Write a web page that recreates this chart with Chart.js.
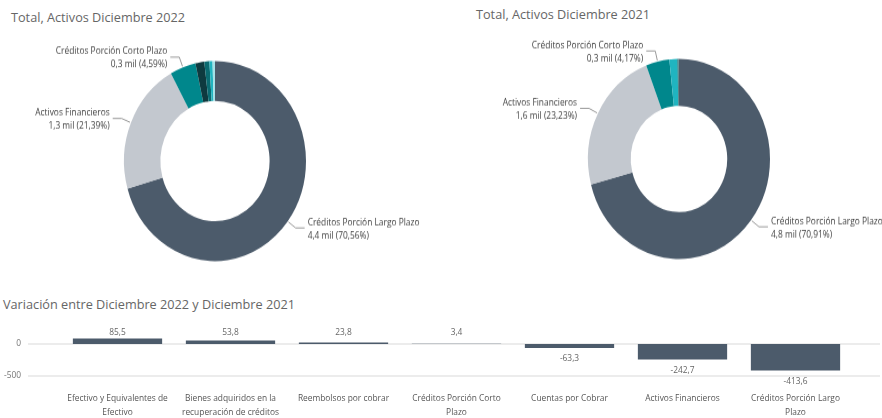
<!DOCTYPE html>
<html lang="es">
<head>
<meta charset="utf-8">
<title>Total, Activos</title>
<script src="https://cdn.jsdelivr.net/npm/chart.js@4.4.1/dist/chart.umd.min.js"></script>
<style>
  html, body { margin: 0; padding: 0; background: #fff; }
  body { width: 882px; height: 418px; position: relative; overflow: hidden; font-family: 'Open Sans', sans-serif; }
  .titulo { position: absolute; font-size: 12.7px; line-height: 16px; color: #666; white-space: nowrap; }
  canvas { position: absolute; }
  /* las donas se muestran algo estiradas en vertical */
  .dona { transform: scaleY(1.1); transform-origin: 0 0; }
</style>
</head>
<body>
<div class="titulo" style="left:11px; top:9px;">Total, Activos Diciembre 2022</div>
<div class="titulo" style="left:476px; top:6px;">Total, Activos Diciembre 2021</div>
<div class="titulo" style="left:3px; top:296px;">Variación entre Diciembre 2022 y Diciembre 2021</div>

<canvas id="dona2022" class="dona" width="440" height="270" style="left:0; top:0;"></canvas>
<canvas id="dona2021" class="dona" width="441" height="270" style="left:441px; top:0;"></canvas>
<canvas id="variacion" width="882" height="102" style="left:0; top:316px;"></canvas>

<script>
// categorías de activos (millones)
const categorias = [
  'Efectivo y Equivalentes de Efectivo',
  'Bienes adquiridos en la recuperación de créditos',
  'Reembolsos por cobrar',
  'Créditos Porción Corto Plazo',
  'Cuentas por Cobrar',
  'Activos Financieros',
  'Créditos Porción Largo Plazo'
];
const activos2022 = [97.4, 55.7, 26.7, 285.1, 34.4, 1327.3, 4378.6];
const activos2021 = [11.9, 1.9, 2.9, 281.7, 97.7, 1570.0, 4792.2];
const variacion = [85.5, 53.8, 23.8, 3.4, -63.3, -242.7, -413.6];
const etiquetasEje = [
  ['Efectivo y Equivalentes de', 'Efectivo'],
  ['Bienes adquiridos en la', 'recuperación de créditos'],
  'Reembolsos por cobrar',
  ['Créditos Porción Corto', 'Plazo'],
  'Cuentas por Cobrar',
  'Activos Financieros',
  ['Créditos Porción Largo', 'Plazo']
];
const marcasY = [0, -500];

const colores = ['#0e3a3f', '#0a6b71', '#a3e2e8', '#00878c', '#20b4c0', '#c3c8cf', '#4c5b6b'];
const FUENTE = "'Open Sans', sans-serif";

const fmtNum = (v, d) => v.toFixed(d).replace('.', ',');

// etiquetas con línea guía para las porciones más grandes
const etiquetasDona = {
  id: 'etiquetasDona',
  afterDatasetsDraw(chart, args, opts) {
    const ctx = chart.ctx;
    const meta = chart.getDatasetMeta(0);
    const valores = chart.data.datasets[0].data;
    const total = valores.reduce((a, b) => a + b, 0);
    ctx.save();
    ctx.font = '8.4px ' + FUENTE;
    ctx.textBaseline = 'middle';
    ctx.lineWidth = 1;
    meta.data.forEach((arc, i) => {
      if (i >= opts.cuantas) return;
      const p = arc.getProps(['x', 'y', 'startAngle', 'endAngle', 'outerRadius'], true);
      const a = (p.startAngle + p.endAngle) / 2;
      const x0 = p.x + Math.cos(a) * (p.outerRadius + 1);
      const y0 = p.y + Math.sin(a) * (p.outerRadius + 1);
      const der = Math.cos(a) >= 0;
      const x1 = x0 + Math.cos(a) * 9;
      const y1 = y0 + Math.sin(a) * 9;
      const x2 = x1 + (der ? 9 : -9);
      ctx.strokeStyle = '#999';
      ctx.beginPath();
      ctx.moveTo(x0, y0);
      ctx.lineTo(x1, y1);
      ctx.lineTo(x2, y1);
      ctx.stroke();
      const tx = x2 + (der ? 3 : -3);
      ctx.textAlign = der ? 'left' : 'right';
      ctx.fillStyle = '#3f3f3f';
      ctx.fillText(chart.data.labels[i], tx, y1 - 5);
      ctx.fillText(fmtNum(valores[i] / 1000, 1) + ' mil (' + fmtNum(valores[i] / total * 100, 2) + '%)', tx, y1 + 7);
    });
    ctx.restore();
  }
};

function crearDona(id, valores, padding, cutout) {
  // orden descendente, cada categoría conserva su color
  const orden = valores.map((v, i) => i).sort((a, b) => valores[b] - valores[a]);
  return new Chart(document.getElementById(id), {
    type: 'doughnut',
    data: {
      labels: orden.map(i => categorias[i]),
      datasets: [{
        data: orden.map(i => valores[i]),
        backgroundColor: orden.map(i => colores[i]),
        borderWidth: 0
      }]
    },
    options: {
      responsive: false,
      animation: false,
      cutout: cutout,
      layout: { padding: padding },
      plugins: {
        legend: { display: false },
        tooltip: { enabled: false },
        etiquetasDona: { cuantas: 3 }
      }
    },
    plugins: [etiquetasDona]
  });
}

crearDona('dona2022', activos2022, { left: 124, right: 134, top: 55.4, bottom: 32.6 }, '60%');
crearDona('dona2021', activos2021, { left: 147, right: 112, top: 53.5, bottom: 34.5 }, '53%');

// líneas de cuadrícula a todo el ancho
const cuadricula = {
  id: 'cuadricula',
  beforeDatasetsDraw(chart) {
    const ctx = chart.ctx;
    const y = chart.scales.y;
    ctx.save();
    ctx.strokeStyle = '#e6e6e6';
    ctx.lineWidth = 1.5;
    marcasY.forEach(v => {
      const py = y.getPixelForValue(v);
      ctx.beginPath();
      ctx.moveTo(28, py);
      ctx.lineTo(chart.width - 2, py);
      ctx.stroke();
    });
    ctx.restore();
  }
};

// valores sobre/bajo cada barra
const valoresBarras = {
  id: 'valoresBarras',
  afterDatasetsDraw(chart) {
    const ctx = chart.ctx;
    const base = chart.scales.y.getPixelForValue(0);
    const datos = chart.data.datasets[0].data;
    ctx.save();
    ctx.font = '8.4px ' + FUENTE;
    ctx.fillStyle = '#666';
    ctx.textAlign = 'center';
    ctx.textBaseline = 'middle';
    chart.getDatasetMeta(0).data.forEach((bar, i) => {
      const v = datos[i];
      const y = v >= 0 ? Math.min(bar.y, base - 5) - 6 : bar.y + 11;
      ctx.fillText(fmtNum(v, 1), bar.x, y);
    });
    ctx.restore();
  }
};

new Chart(document.getElementById('variacion'), {
  type: 'bar',
  data: {
    labels: etiquetasEje,
    datasets: [{
      data: variacion,
      backgroundColor: '#4c5b6b',
      barPercentage: 0.79,
      categoryPercentage: 1
    }]
  },
  options: {
    responsive: false,
    animation: false,
    layout: { padding: { top: 14, right: 30, left: 0, bottom: 0 } },
    plugins: { legend: { display: false }, tooltip: { enabled: false } },
    scales: {
      x: {
        grid: { display: false, drawTicks: false },
        border: { display: false },
        ticks: {
          padding: 12,
          maxRotation: 0,
          autoSkip: false,
          color: '#555',
          font: { family: FUENTE, size: 8.4, lineHeight: 1.65 }
        },
        afterFit: s => {
          s.height = 38;
          s.paddingLeft = 0;
          s.paddingRight = 0;
        }
      },
      y: {
        min: -562.5,
        max: 218.75,
        grid: { display: false, drawTicks: false },
        border: { display: false },
        afterBuildTicks: s => { s.ticks = marcasY.map(v => ({ value: v })); },
        afterFit: s => {
          s.width = 61;
          s.paddingTop = 0;
          s.paddingBottom = 0;
        },
        ticks: {
          padding: 40,
          color: '#777',
          font: { family: FUENTE, size: 8.4 },
          callback: v => String(v)
        }
      }
    }
  },
  plugins: [cuadricula, valoresBarras]
});
</script>
</body>
</html>
